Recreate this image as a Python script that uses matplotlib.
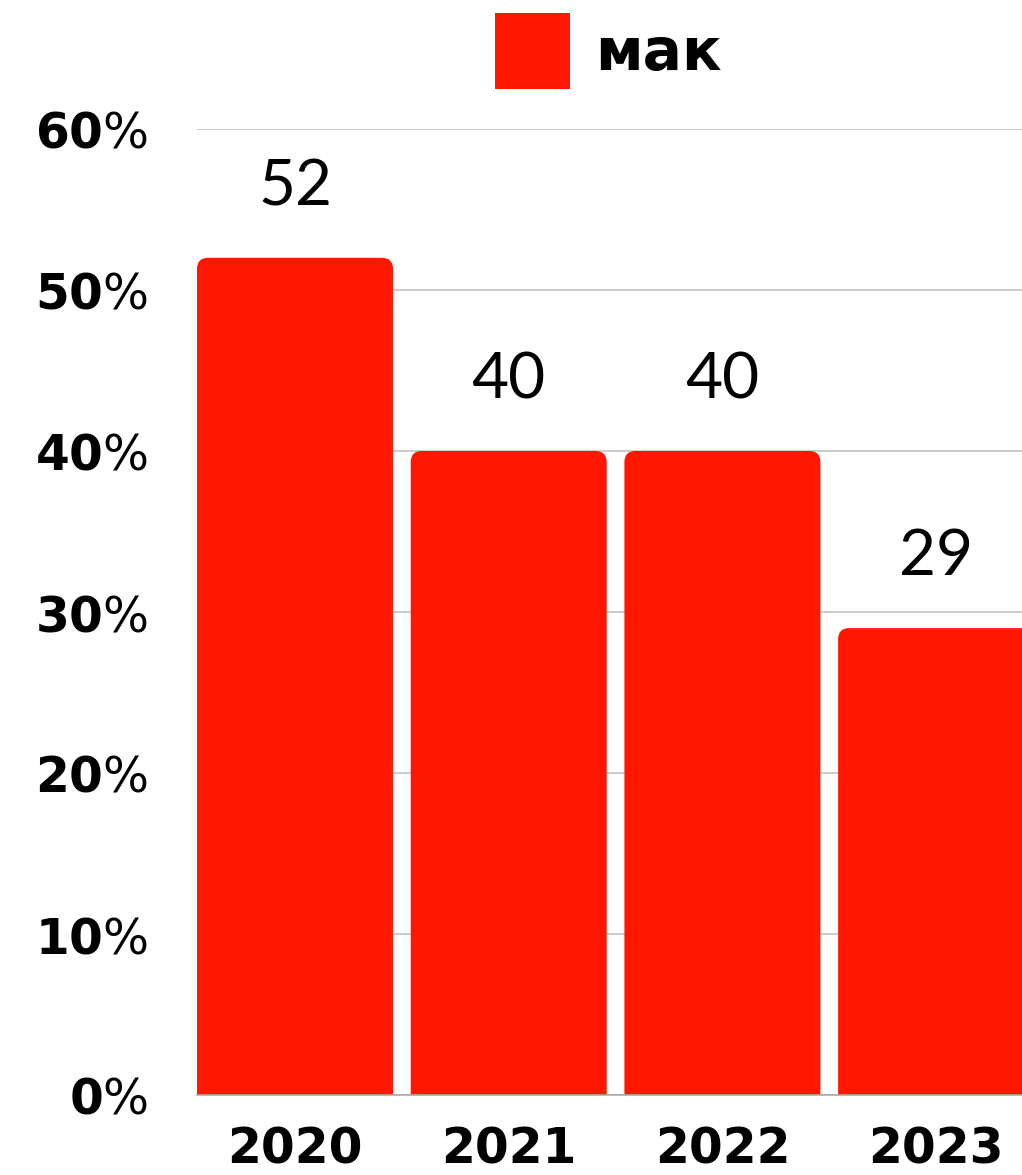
import matplotlib
matplotlib.use("Agg")
import matplotlib.pyplot as plt
from matplotlib.path import Path
from matplotlib.patches import PathPatch

years = ["2020", "2021", "2022", "2023"]
values = [52, 40, 40, 29]
series_name = "мак"
yticks = [0, 10, 20, 30, 40, 50, 60]
ytick_labels = [r"$\mathbf{%d}$%%" % t for t in yticks]

RED = "#ff1700"
W, H = 1022, 1175
fig = plt.figure(figsize=(W / 100, H / 100), dpi=100)
ax = fig.add_axes([197 / W, 80 / H, 825 / W, 966 / H])

x = list(range(len(years)))
bars = ax.bar(x, values, width=0.917, color=RED, label=series_name, zorder=2)
ax.set_xlim(-0.4585, 3.402)
ax.set_ylim(0, 60)

# rounded top corners
px_x = (3.402 + 0.4585) / 825.0
px_y = 60 / 966.0
r = 11
for rect in bars:
    rect.set_visible(False)
    x0 = rect.get_x()
    x1 = x0 + rect.get_width()
    h = rect.get_height()
    rx, ry = r * px_x, r * px_y
    verts = [(x0, 0), (x0, h - ry), (x0, h), (x0 + rx, h), (x1 - rx, h),
             (x1, h), (x1, h - ry), (x1, 0), (x0, 0)]
    codes = [Path.MOVETO, Path.LINETO, Path.CURVE3, Path.CURVE3, Path.LINETO,
             Path.CURVE3, Path.CURVE3, Path.LINETO, Path.CLOSEPOLY]
    ax.add_patch(PathPatch(Path(verts, codes), facecolor=RED, edgecolor="none", zorder=2))

for xi, v in zip(x, values):
    ax.annotate(str(v), (xi, v), xytext=(0, 38), textcoords="offset points",
                ha="center", va="baseline", fontsize=46, family="Lato", color="black")

ax.set_yticks(yticks)
ax.set_yticklabels(ytick_labels, fontsize=35)
ax.set_xticks(x)
ax.set_xticklabels(years, fontsize=35, fontweight="bold")
ax.tick_params(axis="y", length=0, pad=35)
ax.tick_params(axis="x", length=0, pad=22)
ax.yaxis.grid(True, color="#c8c8c8", linewidth=1.3, zorder=0)
ax.set_axisbelow(True)
for s in ["top", "right", "left"]:
    ax.spines[s].set_visible(False)
ax.spines["bottom"].set_color("#aaaaaa")
ax.spines["bottom"].set_linewidth(1.2)
ax.spines["bottom"].set_zorder(3)

leg_handle = plt.Rectangle((0, 0), 1, 1, facecolor=RED, edgecolor="none")
fig.legend([leg_handle], [series_name], loc="center",
           bbox_to_anchor=(608 / W, 1 - 51 / H), frameon=False,
           prop={"size": 42, "weight": "bold"}, handlelength=1.3,
           handleheight=1.62, handletextpad=0.42, borderpad=0)

fig.savefig("out.png", dpi=100)
